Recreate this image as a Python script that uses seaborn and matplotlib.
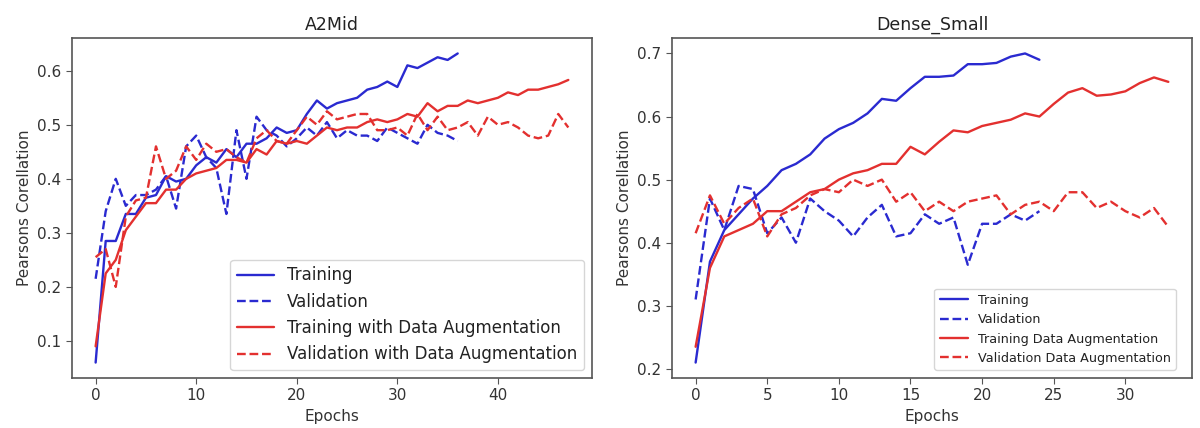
import numpy as np
import pandas as pd
import matplotlib
matplotlib.use("Agg")
import matplotlib.pyplot as plt
import seaborn as sns

# ---------------- A2Mid ----------------
a2_train = [0.06, 0.285, 0.285, 0.335, 0.335, 0.365, 0.37, 0.405, 0.395, 0.40,
            0.425, 0.44, 0.43, 0.455, 0.44, 0.465, 0.465, 0.475, 0.495, 0.485,
            0.49, 0.52, 0.545, 0.53, 0.54, 0.545, 0.55, 0.565, 0.57, 0.58,
            0.57, 0.61, 0.605, 0.615, 0.625, 0.62, 0.632]
a2_val = [0.215, 0.34, 0.40, 0.35, 0.37, 0.37, 0.38, 0.405, 0.345, 0.46,
          0.48, 0.44, 0.42, 0.335, 0.49, 0.40, 0.515, 0.49, 0.48, 0.46,
          0.475, 0.495, 0.48, 0.505, 0.475, 0.49, 0.48, 0.48, 0.47, 0.495,
          0.485, 0.475, 0.465, 0.50, 0.485, 0.48, 0.47]
a2_train_da = [0.09, 0.225, 0.25, 0.305, 0.33, 0.355, 0.355, 0.38, 0.38, 0.40,
               0.41, 0.415, 0.42, 0.435, 0.435, 0.43, 0.455, 0.445, 0.47, 0.465,
               0.47, 0.465, 0.48, 0.495, 0.49, 0.495, 0.495, 0.505, 0.51, 0.505,
               0.51, 0.52, 0.515, 0.54, 0.525, 0.535, 0.535, 0.545, 0.54, 0.545,
               0.55, 0.56, 0.555, 0.565, 0.565, 0.57, 0.575, 0.583]
a2_val_da = [0.255, 0.27, 0.20, 0.33, 0.36, 0.365, 0.46, 0.40, 0.415, 0.46,
             0.435, 0.465, 0.45, 0.455, 0.44, 0.43, 0.475, 0.49, 0.47, 0.465,
             0.49, 0.515, 0.50, 0.525, 0.51, 0.515, 0.52, 0.52, 0.49, 0.49,
             0.495, 0.48, 0.52, 0.49, 0.515, 0.49, 0.495, 0.505, 0.48, 0.515,
             0.50, 0.505, 0.495, 0.48, 0.475, 0.48, 0.52, 0.495]

# ---------------- Dense_Small ----------------
ds_train = [0.21, 0.37, 0.42, 0.445, 0.47, 0.49, 0.515, 0.525, 0.54, 0.565,
            0.58, 0.59, 0.605, 0.628, 0.625, 0.645, 0.663, 0.663, 0.665, 0.683,
            0.683, 0.685, 0.695, 0.70, 0.69]
ds_val = [0.31, 0.47, 0.42, 0.49, 0.485, 0.415, 0.44, 0.40, 0.47, 0.45,
          0.435, 0.41, 0.44, 0.46, 0.41, 0.415, 0.445, 0.43, 0.44, 0.365,
          0.43, 0.43, 0.445, 0.435, 0.45]
ds_train_da = [0.235, 0.36, 0.41, 0.42, 0.43, 0.45, 0.45, 0.465, 0.48, 0.485,
               0.50, 0.51, 0.515, 0.525, 0.525, 0.552, 0.54, 0.56, 0.578, 0.575,
               0.585, 0.59, 0.595, 0.605, 0.60, 0.62, 0.638, 0.645, 0.633, 0.635,
               0.64, 0.653, 0.662, 0.655]
ds_val_da = [0.415, 0.475, 0.43, 0.455, 0.47, 0.41, 0.445, 0.455, 0.475, 0.485,
             0.48, 0.50, 0.49, 0.50, 0.465, 0.48, 0.45, 0.465, 0.45, 0.465,
             0.47, 0.475, 0.445, 0.46, 0.465, 0.45, 0.48, 0.48, 0.455, 0.465,
             0.45, 0.44, 0.455, 0.425]

titles = ["A2Mid", "Dense_Small"]
labels_left = ["Training", "Validation", "Training with Data Augmentation",
               "Validation with Data Augmentation"]
labels_right = ["Training", "Validation", "Training Data Augmentation",
                "Validation Data Augmentation"]

BLUE = "#2a2ad0"
RED = "#e3302f"

sns.set_style("ticks")
plt.rcParams.update({
    "font.family": ["DejaVu Sans"],
    "axes.edgecolor": "#555555",
    "axes.linewidth": 1.2,
    "xtick.color": "#555555",
    "ytick.color": "#555555",
    "xtick.labelcolor": "#333333",
    "ytick.labelcolor": "#333333",
    "xtick.major.size": 4,
    "ytick.major.size": 4,
    "text.color": "#222222",
    "axes.labelcolor": "#333333",
})

fig = plt.figure(figsize=(12, 4.28), dpi=100)
ax1 = fig.add_axes([0.06, 0.1168, 0.4333, 0.7944])
ax2 = fig.add_axes([0.56, 0.1168, 0.4333, 0.7944])


def draw(ax, series, labels, title, legend_fs, anchor):
    styles = [(BLUE, "-"), (BLUE, "--"), (RED, "-"), (RED, "--")]
    for vals, lab, (c, ls) in zip(series, labels, styles):
        df = pd.DataFrame({"Epochs": np.arange(len(vals)), "value": vals})
        sns.lineplot(data=df, x="Epochs", y="value", ax=ax, color=c,
                     linestyle=ls, linewidth=1.7, label=lab)
    ax.set_title(title, fontsize=12.5)
    ax.set_xlabel("Epochs", fontsize=11)
    ax.set_ylabel("Pearsons Corellation", fontsize=11)
    ax.tick_params(labelsize=11)
    ax.margins(x=0.05, y=0.05)
    for s in ax.spines.values():
        s.set_visible(True)
    leg = ax.legend(loc="lower right", fontsize=legend_fs, frameon=True,
                    handlelength=2.2, bbox_to_anchor=anchor,
                    borderaxespad=0.0)
    leg.get_frame().set_edgecolor("#cccccc")


draw(ax1, [a2_train, a2_val, a2_train_da, a2_val_da], labels_left, titles[0],
     12, (1 - 8 / 520, 8 / 340))
draw(ax2, [ds_train, ds_val, ds_train_da, ds_val_da], labels_right, titles[1],
     9.2, (1 - 16 / 520, 8 / 340))
ax1.set_xticks([0, 10, 20, 30, 40])
ax1.set_yticks([0.1, 0.2, 0.3, 0.4, 0.5, 0.6])
ax2.set_xticks([0, 5, 10, 15, 20, 25, 30])
ax2.set_yticks([0.2, 0.3, 0.4, 0.5, 0.6, 0.7])

fig.savefig("out.png", dpi=100)
